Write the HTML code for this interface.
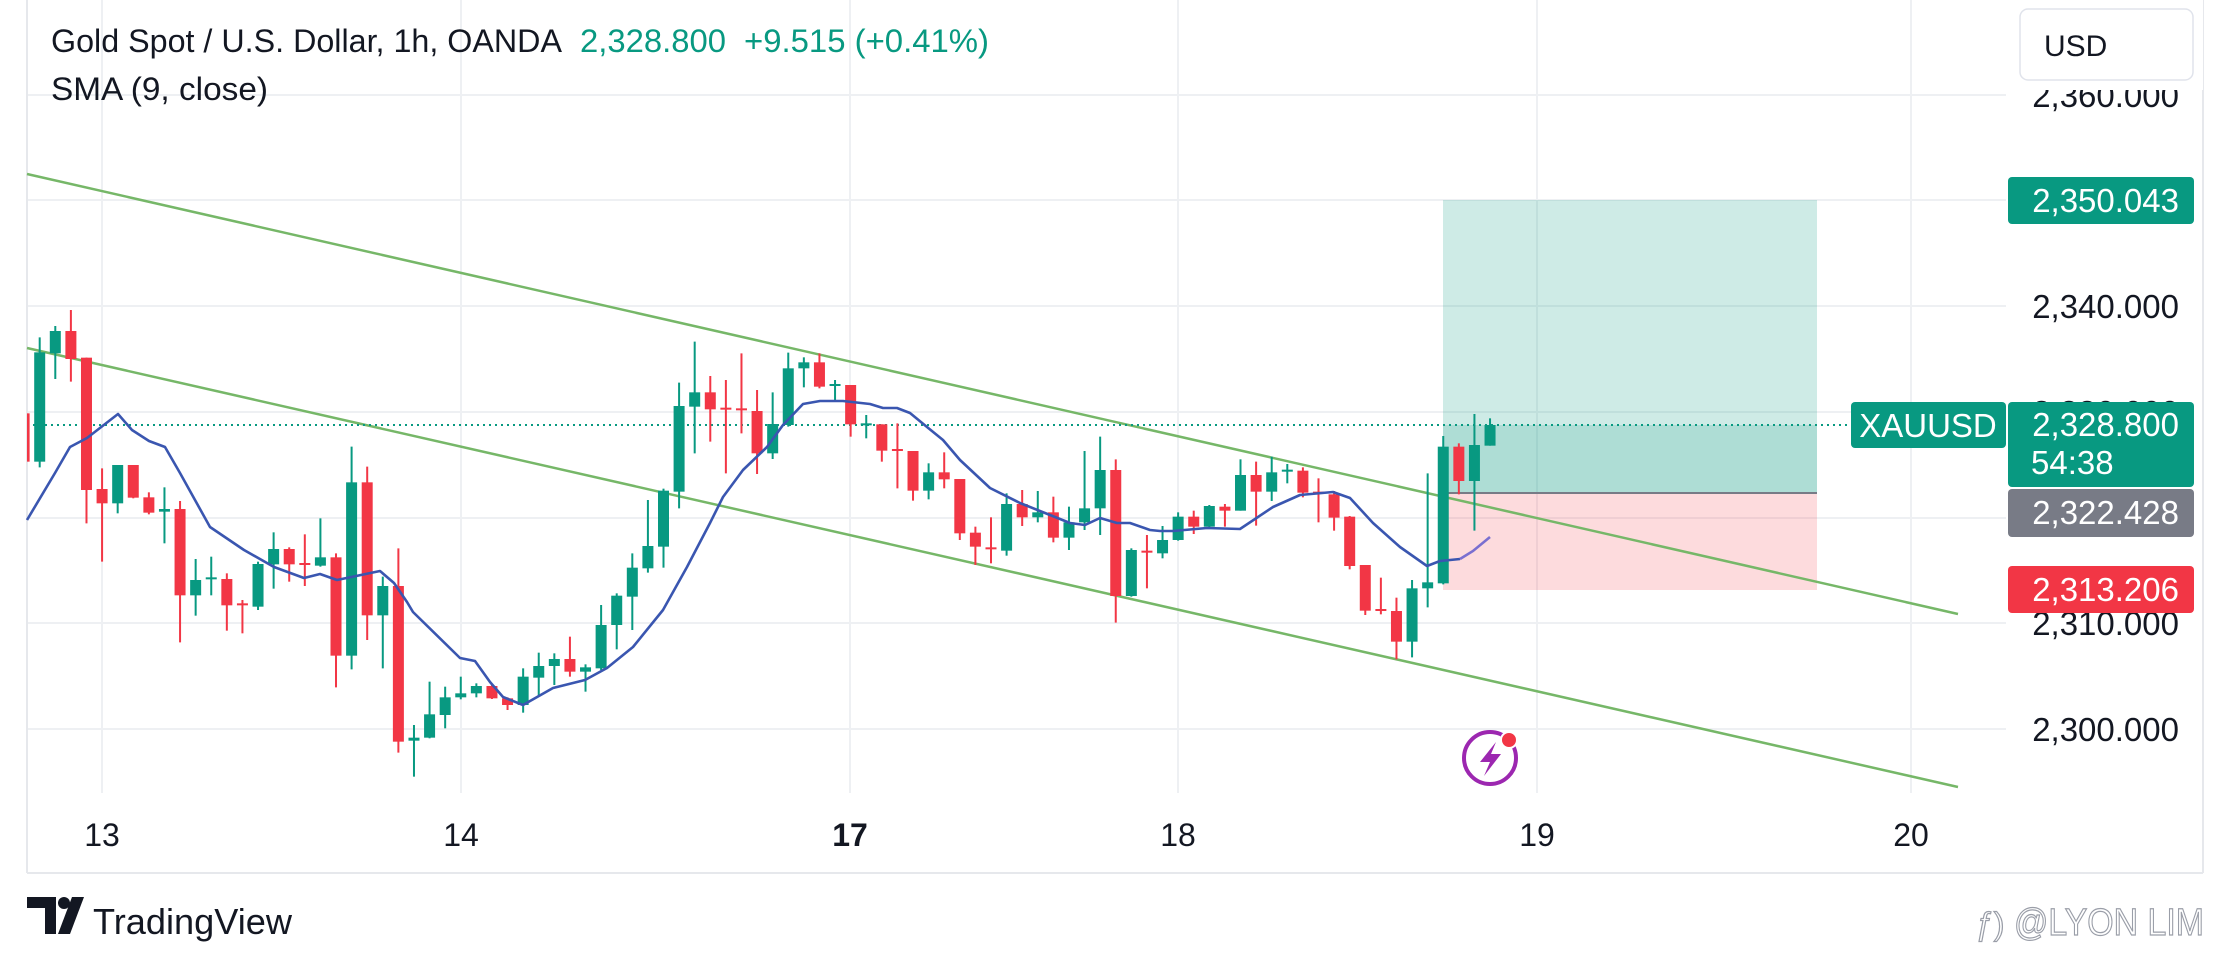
<!DOCTYPE html>
<html><head><meta charset="utf-8"><style>
html,body{margin:0;padding:0;background:#fff;}
svg{display:block;font-family:"Liberation Sans",Arial,sans-serif;}
</style></head><body>
<svg id="s" width="2232" height="971" viewBox="0 0 2232 971" xmlns="http://www.w3.org/2000/svg">
<rect width="2232" height="971" fill="#fff"/>
<g stroke="#eef0f3" stroke-width="2">
<line x1="27" y1="95" x2="2006" y2="95"/><line x1="27" y1="200" x2="2006" y2="200"/>
<line x1="27" y1="306" x2="2006" y2="306"/><line x1="27" y1="412" x2="2006" y2="412"/>
<line x1="27" y1="518" x2="2006" y2="518"/><line x1="27" y1="623" x2="2006" y2="623"/>
<line x1="27" y1="729" x2="2006" y2="729"/>
<line x1="102" y1="0" x2="102" y2="793"/><line x1="461" y1="0" x2="461" y2="793"/>
<line x1="850" y1="0" x2="850" y2="793"/><line x1="1178" y1="0" x2="1178" y2="793"/>
<line x1="1537" y1="0" x2="1537" y2="793"/><line x1="1911" y1="0" x2="1911" y2="793"/>
</g>
<line x1="27" y1="0" x2="27" y2="873" stroke="#e6e8ec" stroke-width="2"/>
<line x1="2203" y1="0" x2="2203" y2="873" stroke="#e6e8ec" stroke-width="2"/>
<line x1="27" y1="873" x2="2203" y2="873" stroke="#e6e8ec" stroke-width="2"/>
<!-- position tool -->
<rect x="1443" y="200" width="374" height="225" fill="#089981" fill-opacity="0.2"/>
<rect x="1443" y="425" width="374" height="68" fill="#089981" fill-opacity="0.33"/>
<rect x="1443" y="493" width="374" height="97" fill="#f23645" fill-opacity="0.18"/>
<line x1="1443" y1="493" x2="1817" y2="493" stroke="#787b86" stroke-width="2"/>
<!-- channel -->
<line x1="27" y1="174" x2="1958" y2="614" stroke="#76b768" stroke-width="2.5"/>
<line x1="27" y1="348" x2="1958" y2="787" stroke="#76b768" stroke-width="2.5"/>
<line x1="27" y1="425" x2="1851" y2="425" stroke="#089981" stroke-width="2" stroke-dasharray="2,4"/>
<g id="c"></g>
<polyline fill="none" stroke="#3a56b0" stroke-width="2.6" stroke-linejoin="round" points="27,520 55,473 70,447 87,438 118,414 132,430 149,441 165,447 180,473 210,527 244,550 274,567 304,578 320,574 337,580 380,571 394,583 407,602 413,612 460,658 475,661 490,682 503,697 523,705 553,688 585,680 607,668 633,647 663,610 687,567 710,523 723,497 743,470 767,447 783,425 803,404 820,401 843,401 870,404 883,408 897,408 910,413 927,427 943,440 960,460 990,488 1020,503 1050,515 1070,523 1085,525 1100,518 1117,523 1130,523 1150,530 1160,531 1173,531 1207,528 1240,529 1273,507 1300,495 1333,492 1350,498 1373,523 1400,547 1427,566 1440,561 1460,559"/>
<polyline fill="none" stroke="#7a6fd0" stroke-width="2.6" points="1460,559 1473,551 1490,537"/>
<!-- icon -->
<circle cx="1490" cy="758" r="26" fill="none" stroke="#9c27b0" stroke-width="4"/>
<path d="M1496,742 L1480,762 L1490,762 L1484,776 L1501,754 L1491,754 Z" fill="#9c27b0"/>
<circle cx="1509" cy="740" r="8" fill="#f23645" stroke="#fff" stroke-width="2"/>
<!-- title -->
<text x="51" y="52" font-size="32" fill="#131722" textLength="511" lengthAdjust="spacingAndGlyphs">Gold Spot / U.S. Dollar, 1h, OANDA</text>
<text x="580" y="52" font-size="32" fill="#089981" textLength="146" lengthAdjust="spacingAndGlyphs">2,328.800</text>
<text x="744" y="52" font-size="32" fill="#089981" textLength="245" lengthAdjust="spacingAndGlyphs">+9.515 (+0.41%)</text>
<text x="51" y="100" font-size="32" fill="#131722" textLength="217" lengthAdjust="spacingAndGlyphs">SMA (9, close)</text>
<!-- price axis -->
<g font-size="33" fill="#131722" text-anchor="end">
<text x="2179" y="107">2,360.000</text>
<text x="2179" y="318">2,340.000</text>
<text x="2179" y="424">2,330.000</text>
<text x="2179" y="635">2,310.000</text>
<text x="2179" y="741">2,300.000</text>
</g>
<rect x="2010" y="0" width="193" height="90" fill="#fff"/>
<rect x="2020" y="9" width="173" height="71" rx="8" fill="#fff" stroke="#e0e3eb" stroke-width="1.5"/>
<text x="2044" y="56" font-size="30" fill="#131722">USD</text>
<rect x="2008" y="177" width="186" height="47" rx="4" fill="#089981"/>
<text x="2179" y="212" font-size="33" fill="#fff" text-anchor="end">2,350.043</text>
<rect x="1851" y="402" width="155" height="46" rx="4" fill="#089981"/>
<text x="1928" y="437" font-size="33" fill="#fff" text-anchor="middle">XAUUSD</text>
<rect x="2008" y="402" width="186" height="85" rx="4" fill="#089981"/>
<text x="2179" y="436" font-size="33" fill="#fff" text-anchor="end">2,328.800</text>
<text x="2031" y="474" font-size="33" fill="#fff">54:38</text>
<rect x="2008" y="489" width="186" height="48" rx="4" fill="#787b86"/>
<text x="2179" y="524" font-size="33" fill="#fff" text-anchor="end">2,322.428</text>
<rect x="2008" y="566" width="186" height="47" rx="4" fill="#f23645"/>
<text x="2179" y="601" font-size="33" fill="#fff" text-anchor="end">2,313.206</text>
<!-- dates -->
<g font-size="32" fill="#131722" text-anchor="middle">
<text x="102" y="846">13</text><text x="461" y="846">14</text>
<text x="850" y="846" font-weight="bold">17</text><text x="1178" y="846">18</text>
<text x="1537" y="846">19</text><text x="1911" y="846">20</text>
</g>
<!-- footer -->
<path d="M27,897 L56,897 L56,934 L45,934 L45,908 L27,908 Z" fill="#131722"/>
<circle cx="64" cy="903" r="6" fill="#131722"/>
<path d="M72,897 L84,897 L70,934 L58,934 Z" fill="#131722"/>
<text x="93" y="934" font-size="36" fill="#131722" textLength="199" lengthAdjust="spacingAndGlyphs">TradingView</text>
<text x="2014" y="935" font-size="38" fill="#fff" stroke="#9a9ea8" stroke-width="1.2" textLength="190" lengthAdjust="spacingAndGlyphs">@LYON LIM</text>
<text x="1976" y="935" font-size="32" fill="#fff" stroke="#9a9ea8" stroke-width="1.2">ƒ)</text>
</svg>
<script>
var D=[
['R',340,485,340,485],
['G',157,485,112,502],['G',93,160,78,237],['R',93,177,30,245],['R',173,570,173,670],['R',567,610,505,785],
['G',495,610,495,640],['R',495,593,495,595],['R',592,638,577,643],['G',627,635,562,730],['R',627,886,603,1027],
['G',840,886,777,947],['G',832,838,770,886],['R',837,916,820,992],['R',910,916,900,1000],['G',792,920,785,930],
['G',747,793,697,866],['R',747,793,742,845],['R',789,795,703,858],['G',772,797,655,800],['R',772,1067,760,1162],
['G',547,1067,440,1108],['R',547,946,500,1020],['G',858,946,830,1105],['R',858,1325,745,1358],
['G',1313,1322,1275,1430],['G',1243,1313,1145,1315],['G',1192,1245,1160,1285],['G',1180,1192,1130,1198],['G',1158,1180,1150,1192],
['R',1158,1195,1155,1197],['R',1195,1215,1192,1230],['G',1130,1215,1105,1238],['G',1098,1133,1058,1190],['G',1077,1098,1060,1155],
['R',1077,1115,1010,1130],['G',1102,1115,1093,1175],['G',975,1105,915,1110],['G',887,975,880,1048],['G',803,890,760,990],
['G',738,805,600,818],['G',572,740,566,803],['G',318,575,248,625],['G',277,320,125,460],['R',277,328,228,425],
['R',323,329,240,520],['R',325,331,160,400],['R',333,460,270,522],['G',372,460,277,477],
['G',205,375,158,380],['G',187,205,172,262],['R',187,260,160,265],['G',252,258,240,300],['R',255,373,255,410],
['G',370,376,345,415],['R',373,452,373,485],['R',447,453,370,565],['R',453,572,453,602],['G',517,572,490,598],
['R',517,538,457,565],['R',537,700,537,720],['R',698,740,680,795],['R',742,748,652,790],['G',612,752,580,767],
['R',612,652,570,678],['G',637,652,573,667],['R',637,713,590,727],['G',667,713,620,750],['G',625,667,453,690],
['G',510,625,410,705],['R',510,888,478,968],['G',750,888,745,890],['R',752,758,705,865],
['G',720,760,678,775],['G',650,720,637,722],['R',650,680,632,702],['G',618,680,615,682],['R',620,632,612,680],
['G',525,632,478,632],['R',525,575,485,677],['G',517,575,470,603],['G',509,515,492,550],['R',512,578,502,592],
['R',575,581,535,667],['R',583,653,573,692],['R',650,798,648,808],['R',795,932,795,945],['R',927,933,833,943],
['R',933,1025,893,1078],['G',865,1025,840,1072],['G',847,865,520,922],['G',440,850,408,853],['R',440,543,430,583],
['G',435,543,342,692],['G',375,437,355,437]
];
var g=document.getElementById('c'),h='';
for(var i=0;i<D.length;i++){
 var d=D[i],x=39.7+(i-1)*15.595,c=d[0]=='G'?'#089981':'#f23645';
 var y=function(v){return 300+v/3;};
 var bt=y(d[1]),bb=y(d[2]);if(bb-bt<2){var m=(bt+bb)/2;bt=m-1;bb=m+1;}
 var l=x-5.5,w=11;if(l<27){w-=27-l;l=27;}
 if(x>27)h+='<line x1="'+x+'" y1="'+y(d[3])+'" x2="'+x+'" y2="'+y(d[4])+'" stroke="'+c+'" stroke-width="2"/>';
 h+='<rect x="'+l+'" y="'+bt+'" width="'+w+'" height="'+(bb-bt)+'" fill="'+c+'"/>';
}
g.innerHTML=h;
</script>
</body></html>
